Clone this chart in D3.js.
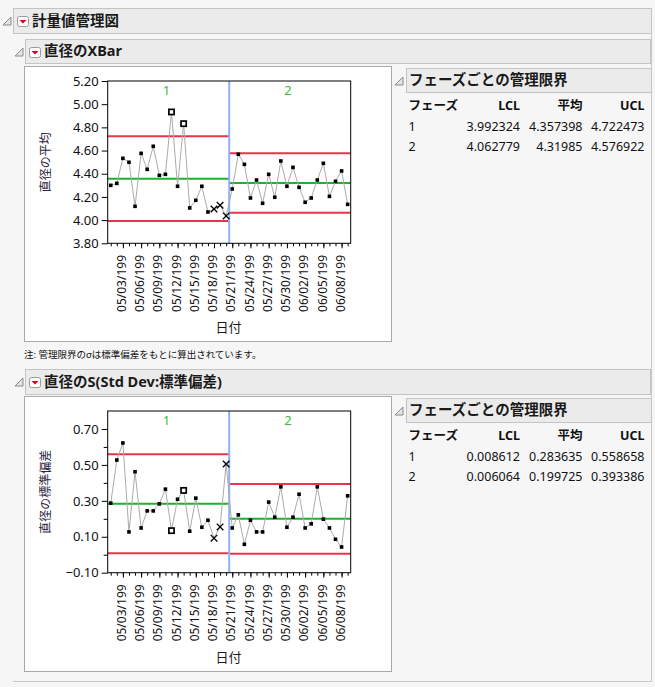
<!DOCTYPE html>
<html>
<head>
<meta charset="utf-8">
<script src="https://cdn.jsdelivr.net/npm/d3@7"></script>
<style>
  body { margin: 0; background: #f6f6f6; }
  text { font-family: "Noto Sans", "Noto Sans CJK JP", sans-serif; }
</style>
</head>
<body>
<div id="chart"></div>
<script>
// dates (one subgroup per day)
const dates = [
  "05/01/1999", "05/02/1999", "05/03/1999", "05/04/1999", "05/05/1999",
  "05/06/1999", "05/07/1999", "05/08/1999", "05/09/1999", "05/10/1999",
  "05/11/1999", "05/12/1999", "05/13/1999", "05/14/1999", "05/15/1999",
  "05/16/1999", "05/17/1999", "05/18/1999", "05/19/1999", "05/20/1999",
  "05/21/1999", "05/22/1999", "05/23/1999", "05/24/1999", "05/25/1999",
  "05/26/1999", "05/27/1999", "05/28/1999", "05/29/1999", "05/30/1999",
  "05/31/1999", "06/01/1999", "06/02/1999", "06/03/1999", "06/04/1999",
  "06/05/1999", "06/06/1999", "06/07/1999", "06/08/1999", "06/09/1999"
];
const labelDates = [
  "05/03/1999", "05/06/1999", "05/09/1999", "05/12/1999", "05/15/1999",
  "05/18/1999", "05/21/1999", "05/24/1999", "05/27/1999", "05/30/1999",
  "06/02/1999", "06/05/1999", "06/08/1999"
];
const phases = ["1", "2"];
const phaseStart = ["05/01/1999", "05/21/1999"];

const xbarValues = [
  4.300, 4.317, 4.533, 4.499, 4.119, 4.576, 4.438, 4.637, 4.386, 4.395,
  4.933, 4.292, 4.832, 4.105, 4.171, 4.292, 4.070, 4.096, 4.128, 4.036,
  4.269, 4.568, 4.481, 4.191, 4.346, 4.145, 4.395, 4.197, 4.510, 4.292,
  4.455, 4.283, 4.154, 4.191, 4.346, 4.490, 4.205, 4.335, 4.424, 4.136
];
const sValues = [
  0.287, 0.527, 0.622, 0.127, 0.462, 0.149, 0.244, 0.244, 0.283, 0.365,
  0.134, 0.309, 0.358, 0.131, 0.315, 0.153, 0.192, 0.092, 0.155, 0.505,
  0.149, 0.222, 0.058, 0.192, 0.127, 0.127, 0.293, 0.209, 0.378, 0.153,
  0.209, 0.337, 0.149, 0.172, 0.378, 0.198, 0.149, 0.086, 0.043, 0.328
];

// flagged subgroups (box = beyond limits, x = test failures)
const xbarBoxDates = ["05/11/1999", "05/13/1999"];
const xbarTestDates = ["05/18/1999", "05/19/1999", "05/20/1999"];
const sBoxDates = ["05/11/1999", "05/13/1999"];
const sTestDates = ["05/18/1999", "05/19/1999", "05/20/1999"];

// limits per phase
const xbarLCL = [3.992324, 4.062779];
const xbarAvg = [4.357398, 4.31985];
const xbarUCL = [4.722473, 4.576922];
const sLCL = [0.008612, 0.006064];
const sAvg = [0.283635, 0.199725];
const sUCL = [0.558658, 0.393386];

// tick labels
const xbarTicks = [3.8, 4.0, 4.2, 4.4, 4.6, 4.8, 5.0, 5.2];
const sTicks = [-0.1, 0.1, 0.3, 0.5, 0.7];
const sMinorTicks = [0.0, 0.2, 0.4, 0.6];

const W = 655, H = 687;
const svg = d3.select('#chart').append('svg')
    .attr('width', W).attr('height', H);

svg.append('rect').attr('width', W).attr('height', H).attr('fill', '#f6f6f6');

// outer border lines
svg.append('line').attr('x1', 651.5).attr('x2', 651.5).attr('y1', 33).attr('y2', 681.5)
    .attr('stroke', '#c8c8c8');
svg.append('line').attr('x1', 13).attr('x2', 652).attr('y1', 681.5).attr('y2', 681.5)
    .attr('stroke', '#c8c8c8');

function disclosure(x, y) {
    svg.append('path')
        .attr('d', `M${x + 8},${y} L${x + 8},${y + 8} L${x},${y + 8} Z`)
        .attr('fill', '#e4e4e4').attr('stroke', '#8a8a8a').attr('stroke-width', 1);
}

function menuIcon(x, y) {
    svg.append('rect').attr('x', x + 0.5).attr('y', y + 0.5)
        .attr('width', 11).attr('height', 10).attr('rx', 2)
        .attr('fill', '#fff').attr('stroke', '#9a9a9a');
    svg.append('path')
        .attr('d', `M${x + 2.5},${y + 4} L${x + 9.5},${y + 4} L${x + 6},${y + 7.5} Z`)
        .attr('fill', '#d8001c');
}

function header(x, y, w, h, title, withIcon) {
    svg.append('rect').attr('x', x + 0.5).attr('y', y + 0.5)
        .attr('width', w).attr('height', h)
        .attr('fill', '#ebebeb').attr('stroke', '#c4c4c4');
    disclosure(x - 10, y + 9);
    let tx = x + 3;
    if (withIcon) {
        menuIcon(x + 4, y + 8);
        tx = x + 19;
    }
    svg.append('text').attr('x', tx).attr('y', y + h / 2 + 5)
        .attr('font-size', '14.5px').attr('font-weight', 'bold')
        .attr('fill', '#1a1a1a')
        .text(title);
}

header(13, 8, 638, 25, '計量値管理図', true);
header(25, 39, 625, 24, '直径のXBar', true);
header(25, 369, 625, 25, '直径のS(Std Dev:標準偏差)', true);

function phaseIndex(d) {
    let p = 0;
    phaseStart.forEach((s, i) => { if (dates.indexOf(d) >= dates.indexOf(s)) p = i; });
    return p;
}

function drawChart(opt) {
    const fx = 24, fw = 367, fh = 275;
    svg.append('rect').attr('x', fx + 0.5).attr('y', opt.frameY + 0.5)
        .attr('width', fw).attr('height', fh)
        .attr('fill', '#fff').attr('stroke', '#a8a8a8');

    const left = 107.7, right = 350.7;
    const top = opt.frameY + opt.plotTop, bottom = opt.frameY + opt.plotBottom;

    const x = d3.scalePoint().domain(dates).range([left, right]).padding(0.5);
    const y = d3.scaleLinear().domain(opt.domain).range([bottom, top]);
    const step = x.step();

    const g = svg.append('g');

    // phase segments
    const segs = phases.map((p, i) => {
        const first = dates.indexOf(phaseStart[i]);
        const last = i < phases.length - 1 ? dates.indexOf(phaseStart[i + 1]) - 1 : dates.length - 1;
        return {
            name: p,
            x0: x(dates[first]) - step / 2,
            x1: x(dates[last]) + step / 2,
            lcl: opt.lcl[i], avg: opt.avg[i], ucl: opt.ucl[i]
        };
    });

    segs.forEach(s => {
        [['lcl', '#e8334b'], ['ucl', '#e8334b'], ['avg', '#21b02b']].forEach(([k, c]) => {
            g.append('line')
                .attr('x1', s.x0).attr('x2', s.x1)
                .attr('y1', y(s[k])).attr('y2', y(s[k]))
                .attr('stroke', c).attr('stroke-width', 2);
        });
        g.append('text')
            .attr('x', (s.x0 + s.x1) / 2 - 2).attr('y', top + 13.5)
            .attr('text-anchor', 'middle')
            .attr('font-size', '13px').attr('fill', '#3dbb3d')
            .text(s.name);
    });

    // phase divider
    segs.slice(1).forEach(s => {
        g.append('line')
            .attr('x1', s.x0).attr('x2', s.x0)
            .attr('y1', top).attr('y2', bottom)
            .attr('stroke', '#8db2f3').attr('stroke-width', 2);
    });

    const pts = dates.map((d, i) => ({ d: d, v: opt.values[i] }));

    g.append('path')
        .datum(pts)
        .attr('fill', 'none').attr('stroke', '#ababab').attr('stroke-width', 1)
        .attr('d', d3.line().x(p => x(p.d)).y(p => y(p.v)));

    pts.forEach(p => {
        const cx = x(p.d), cy = y(p.v);
        if (opt.boxDates.includes(p.d)) {
            g.append('rect')
                .attr('x', cx - 2.6).attr('y', cy - 2.6)
                .attr('width', 5.2).attr('height', 5.2)
                .attr('fill', '#fff').attr('stroke', '#000').attr('stroke-width', 1.7);
        } else if (opt.testDates.includes(p.d)) {
            g.append('path')
                .attr('d', `M${cx - 3.3},${cy - 3.3} L${cx + 3.3},${cy + 3.3} M${cx - 3.3},${cy + 3.3} L${cx + 3.3},${cy - 3.3}`)
                .attr('stroke', '#000').attr('stroke-width', 1.3);
        } else {
            g.append('rect')
                .attr('x', cx - 1.8).attr('y', cy - 1.8)
                .attr('width', 3.6).attr('height', 3.6)
                .attr('fill', '#000');
        }
    });

    // plot border
    svg.append('rect')
        .attr('x', left).attr('y', top)
        .attr('width', right - left).attr('height', bottom - top)
        .attr('fill', 'none').attr('stroke', '#000').attr('stroke-width', 1);

    // y axis
    const ya = svg.append('g').attr('transform', `translate(${left},0)`)
        .call(d3.axisLeft(y).tickValues(opt.ticks).tickFormat(d3.format('.2f'))
            .tickSize(6).tickPadding(3).tickSizeOuter(0));
    if (opt.minor) {
        svg.append('g').attr('transform', `translate(${left},0)`)
            .call(d3.axisLeft(y).tickValues(opt.minor).tickFormat('').tickSize(4).tickSizeOuter(0))
            .select('.domain').remove();
    }
    ya.select('.domain').remove();
    ya.selectAll('text').attr('font-size', '13px').attr('fill', '#111');

    // x axis: every subgroup gets a tick, labeled ones longer
    const xm = svg.append('g').attr('transform', `translate(0,${bottom})`)
        .call(d3.axisBottom(x).tickValues(dates).tickFormat('').tickSize(3).tickSizeOuter(0));
    xm.select('.domain').remove();
    const xa = svg.append('g').attr('transform', `translate(0,${bottom})`)
        .call(d3.axisBottom(x).tickValues(labelDates).tickFormat(d => d.slice(0, 9))
            .tickSize(5).tickSizeOuter(0));
    xa.select('.domain').remove();
    xa.selectAll('text')
        .attr('transform', 'rotate(-90)')
        .attr('text-anchor', 'end')
        .attr('x', -11.7).attr('y', 0).attr('dy', '0.22em')
        .attr('font-size', '12px').attr('fill', '#111');

    svg.selectAll('.tick line').attr('stroke', '#000');

    // axis titles
    svg.append('text')
        .attr('transform', `translate(50,${(top + bottom) / 2}) rotate(-90)`)
        .attr('text-anchor', 'middle')
        .attr('font-size', '12px').attr('fill', '#2a2440')
        .text(opt.yTitle);
    svg.append('text')
        .attr('x', 228.5).attr('y', opt.frameY + 265.5)
        .attr('text-anchor', 'middle')
        .attr('font-size', '13px').attr('fill', '#1a1a1a')
        .text('日付');
}

drawChart({
    frameY: 66, plotTop: 15, plotBottom: 177.3,
    domain: [3.8, 5.2], ticks: xbarTicks,
    values: xbarValues, lcl: xbarLCL, avg: xbarAvg, ucl: xbarUCL,
    boxDates: xbarBoxDates, testDates: xbarTestDates,
    yTitle: '直径の平均'
});

drawChart({
    frameY: 396, plotTop: 15, plotBottom: 176.7,
    domain: [-0.1, 0.8], ticks: sTicks, minor: sMinorTicks,
    values: sValues, lcl: sLCL, avg: sAvg, ucl: sUCL,
    boxDates: sBoxDates, testDates: sTestDates,
    yTitle: '直径の標準偏差'
});

// limit tables
const tableHead = ['フェーズ', 'LCL', '平均', 'UCL'];
const fmt = v => String(+v.toFixed(6));

function drawTable(y0, lcl, avg, ucl) {
    svg.append('rect').attr('x', 406.5).attr('y', y0 + 0.5)
        .attr('width', 245).attr('height', 24)
        .attr('fill', '#ebebeb').attr('stroke', '#c4c4c4');
    disclosure(395, y0 + 9);
    svg.append('text').attr('x', 409).attr('y', y0 + 17)
        .attr('font-size', '14.5px').attr('font-weight', 'bold').attr('fill', '#1a1a1a')
        .text('フェーズごとの管理限界');

    const colX = [408.5, 520, 582.5, 644.5];
    const anchors = ['start', 'end', 'end', 'end'];
    tableHead.forEach((h, i) => {
        svg.append('text').attr('x', colX[i]).attr('y', y0 + 42)
            .attr('text-anchor', anchors[i])
            .attr('font-size', '12.5px').attr('font-weight', 'bold').attr('fill', '#111')
            .text(h);
    });
    phases.forEach((p, r) => {
        const row = [p, fmt(lcl[r]), fmt(avg[r]), fmt(ucl[r])];
        row.forEach((v, i) => {
            svg.append('text').attr('x', colX[i]).attr('y', y0 + 63 + r * 19.5)
                .attr('text-anchor', anchors[i])
                .attr('font-size', '12.5px').attr('fill', '#111')
                .text(v);
        });
    });
}

drawTable(68, xbarLCL, xbarAvg, xbarUCL);
drawTable(398, sLCL, sAvg, sUCL);

svg.append('text').attr('x', 24).attr('y', 358)
    .attr('font-size', '9.5px').attr('fill', '#111')
    .text('注: 管理限界のσは標準偏差をもとに算出されています。');
</script>
</body>
</html>
